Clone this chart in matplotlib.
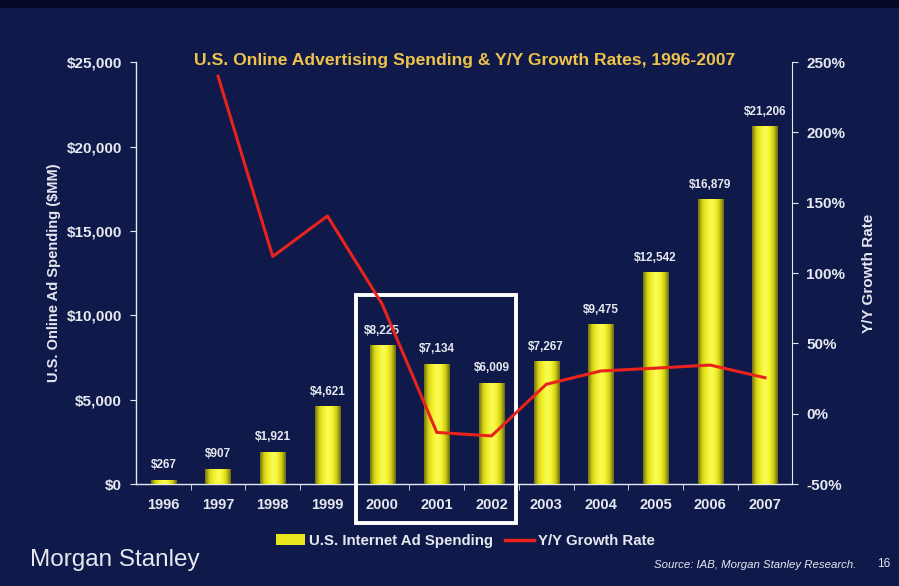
import matplotlib

matplotlib.use('Agg')
import matplotlib.pyplot as plt
import numpy as np
from matplotlib.patches import Rectangle
from matplotlib.lines import Line2D
from matplotlib.colors import LinearSegmentedColormap

years = ['1996', '1997', '1998', '1999', '2000', '2001', '2002',
         '2003', '2004', '2005', '2006', '2007']
spending = [267, 907, 1921, 4621, 8225, 7134, 6009, 7267, 9475, 12542, 16879, 21206]
# growth starts in 1997
growth = [None, 240.0, 111.8, 140.6, 78.0, -13.3, -15.8, 20.9, 30.4, 32.4, 34.6, 25.6]

bg = '#0f1a4a'
fg = '#e6e8f0'
gold = '#efc24a'
red = '#e8231c'

plt.rcParams['font.family'] = ['Liberation Sans', 'DejaVu Sans']

fig = plt.figure(figsize=(8.99, 5.86), dpi=100, facecolor=bg)
ax = fig.add_axes([0.1513, 0.174, 0.730, 0.720])
ax.set_facecolor(bg)

x = np.arange(len(years))
bars = ax.bar(x, spending, width=0.46, color='#e8e71e', zorder=2)

# cylinder shading on each bar
cyl = LinearSegmentedColormap.from_list(
    'cyl', ['#76750f', '#d6d51a', '#f2f128', '#fbfb5c', '#f6f530', '#d0cf18', '#6c6b0e'])
grad = np.linspace(0, 1, 64).reshape(1, -1)
for b in bars:
    im = ax.imshow(grad, cmap=cyl, aspect='auto', zorder=3,
                   extent=(b.get_x(), b.get_x() + b.get_width(), 0, b.get_height()))
    im.set_clip_path(b)

for xi, v in zip(x, spending):
    ax.text(xi, v + 500, f'${v:,}', ha='center', va='bottom', color=fg,
            fontsize=8.5, fontweight='bold', zorder=5)

ax.set_xlim(-0.5, len(years) - 0.5)
ax.set_ylim(0, 25000)
ax.set_yticks(range(0, 25001, 5000))
ax.set_yticklabels([f'${v:,}' for v in range(0, 25001, 5000)])
ax.set_xticks(x)
ax.set_xticklabels(years)
ax.set_xticks(np.arange(0.5, len(years) - 1, 1), minor=True)
ax.tick_params(axis='x', which='major', length=0, pad=10, labelcolor=fg, labelsize=10.5)
ax.tick_params(axis='x', which='minor', length=4, color=fg, direction='out')
ax.tick_params(axis='y', length=4, color=fg, labelcolor=fg, labelsize=11, pad=6)
for lbl in ax.get_xticklabels() + ax.get_yticklabels():
    lbl.set_fontweight('bold')
for s in ['top', 'right']:
    ax.spines[s].set_visible(False)
for s in ['left', 'bottom']:
    ax.spines[s].set_color(fg)
    ax.spines[s].set_linewidth(1.0)
ax.set_ylabel('U.S. Online Ad Spending ($MM)', color=fg, fontsize=10.5,
              fontweight='bold', labelpad=4)

ax2 = ax.twinx()
gx = [xi for xi, g in zip(x, growth) if g is not None]
gy = [g for g in growth if g is not None]
ax2.plot(gx, gy, color=red, lw=2.2, zorder=4)
ax2.set_ylim(-50, 250)
ax2.set_yticks(range(-50, 251, 50))
ax2.set_yticklabels([f'{v}%' for v in range(-50, 251, 50)])
ax2.tick_params(axis='y', length=4, color=fg, labelcolor=fg, labelsize=11, pad=6)
for lbl in ax2.get_yticklabels():
    lbl.set_fontweight('bold')
for s in ['top', 'left', 'bottom']:
    ax2.spines[s].set_visible(False)
ax2.spines['right'].set_color(fg)
ax2.set_ylabel('Y/Y Growth Rate', color=fg, fontsize=11, fontweight='bold', labelpad=12)

# highlight 2000-2002
ax.add_patch(Rectangle((3.52, -2280), 2.93, 13480, fill=False, ec='white',
                       lw=2.8, clip_on=False, zorder=6))

fig.text(0.517, 0.897, 'U.S. Online Advertising Spending & Y/Y Growth Rates, 1996-2007',
         ha='center', va='center', color=gold, fontsize=12.6, fontweight='bold')

handles = [Rectangle((0, 0), 1, 1, fc='#e8e71e'),
           Line2D([0], [0], color=red, lw=2.5)]
leg = fig.legend(handles, ['U.S. Internet Ad Spending', 'Y/Y Growth Rate'],
                 loc='center', bbox_to_anchor=(0.518, 0.077), ncol=2, frameon=False,
                 handlelength=1.9, handletextpad=0.3, columnspacing=0.8,
                 prop={'weight': 'bold', 'size': 10.8})
for t in leg.get_texts():
    t.set_color(fg)

fig.text(0.033, 0.045, 'Morgan Stanley', color=fg, fontsize=17.5,
         ha='left', va='center')
fig.text(0.953, 0.036, 'Source: IAB, Morgan Stanley Research.', color=fg,
         fontsize=8.2, style='italic', ha='right', va='center')
fig.text(0.99, 0.038, '16', color=fg, fontsize=8.5, ha='right', va='center')
fig.add_artist(Rectangle((0, 0.986), 1, 0.014, transform=fig.transFigure,
                         fc='#050a28', ec='none'))

fig.savefig('out.png', dpi=100, facecolor=bg)
